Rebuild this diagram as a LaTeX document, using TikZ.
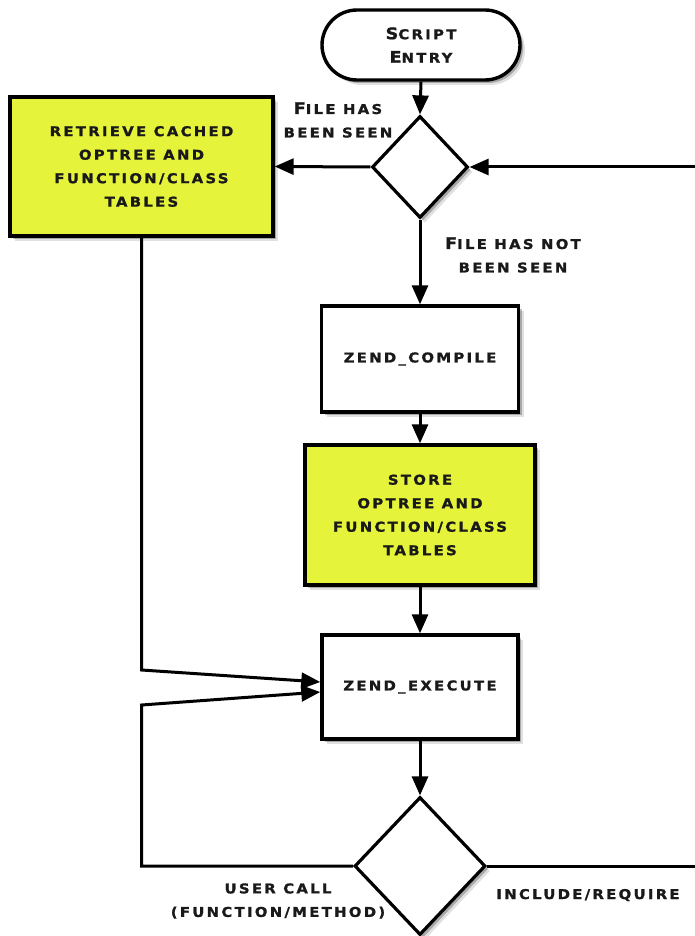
\documentclass[tikz,border=0pt]{standalone}
\usepackage{fontspec}
\newfontfamily\lblfont{DejaVu Sans}[FakeStretch=1.1,LetterSpace=17,FakeBold=1.2]
\usetikzlibrary{shapes.geometric,shapes.misc,arrows.meta,shadows}
\definecolor{hl}{RGB}{229,244,58}
\definecolor{ink}{RGB}{25,25,25}
\newcommand{\bigc}[1]{{\fontsize{16}{23.5}\selectfont #1}}
\begin{document}
\begin{tikzpicture}[x=1pt,y=-1pt,
  txt/.style={font=\lblfont\bfseries\fontsize{13.5}{23.5}\selectfont, text=ink, align=center},
  shad/.style={drop shadow={shadow xshift=5pt,shadow yshift=-5pt,opacity=0.12,fill=black},
               drop shadow={shadow xshift=3pt,shadow yshift=-3pt,opacity=0.25,fill=black}},
  box/.style={rectangle, draw=black, line width=3.4pt, fill=white, shad, txt, inner sep=0pt},
  hlbox/.style={box, fill=hl},
  term/.style={rounded rectangle, draw=black, line width=3.4pt, fill=white, shad, txt, inner sep=0pt},
  dec/.style={diamond, draw=black, line width=3.2pt, fill=white, shad, inner sep=0pt},
  conn/.style={line width=3pt, -{Triangle[length=19pt,width=16pt]}},
  plain/.style={line width=3pt}
]
\useasboundingbox (0,0) rectangle (694,936);

% nodes
\node[term, minimum width=198pt, minimum height=70pt] (entry) at (421,45)
  {\bigc{S}CRIPT\\\bigc{E}NTRY};
\node[dec, minimum width=96pt, minimum height=102pt] (d1) at (420,167) {};
\node[hlbox, minimum width=263pt, minimum height=139pt] (retrieve) at (141.5,166.5)
  {RETRIEVE CACHED\\OPTREE AND\\FUNCTION/CLASS\\TABLES};
\node[box, minimum width=197pt, minimum height=106pt] (compile) at (420,359) {ZEND\_COMPILE};
\node[hlbox, minimum width=230pt, minimum height=140pt] (store) at (420,515)
  {STORE\\OPTREE AND\\FUNCTION/CLASS\\TABLES};
\node[box, minimum width=196pt, minimum height=104pt] (execute) at (420,687) {ZEND\_EXECUTE};
\node[dec, minimum width=131pt, minimum height=138pt] (d2) at (420,866) {};

% labels
\node[txt] (lseen) at (338,120) {\bigc{F}ILE HAS\\BEEN SEEN};
\node[txt] (lnot) at (513,255) {\bigc{F}ILE HAS NOT\\BEEN SEEN};
\node[txt] (luser) at (278,901) {USER CALL\\(FUNCTION/METHOD)};
\node[txt] (lincl) at (588,895) {INCLUDE/REQUIRE};

% helper coordinates
\coordinate (re1) at (700,167);
\coordinate (re2) at (700,866);
\coordinate (k1) at (141.5,670);
\coordinate (k2) at (141.5,705);
\coordinate (k3) at (141.5,866);

% connectors
\draw[conn] (entry.south) -- (d1.north);
\draw[conn] (re1) -- (d1.east);
\draw[conn] (d1.west) -- (retrieve.east);
\draw[conn] (d1.south) -- (compile.north);
\draw[conn] (compile.south) -- (store.north);
\draw[conn] (store.south) -- (execute.north);
\draw[conn] (execute.south) -- (d2.north);
\draw[conn] (retrieve.south) -- (k1) -- ([yshift=5pt]execute.west);
\draw[conn] (d2.west) -- (k3) -- (k2) -- ([yshift=-5pt]execute.west);
\draw[plain] (d2.east) -- (re2);
\end{tikzpicture}
\end{document}
